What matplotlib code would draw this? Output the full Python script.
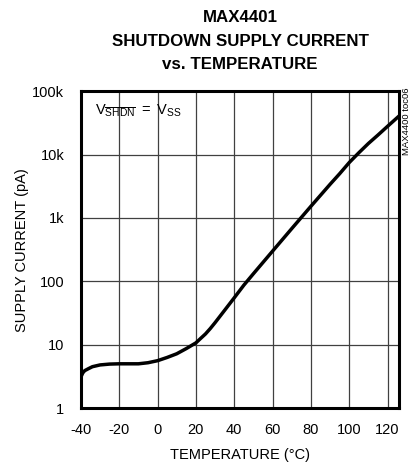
import numpy as np
import matplotlib.pyplot as plt
from matplotlib.ticker import FixedLocator, NullLocator

# data
temp_c = [-40, -39, -38, -36, -34, -30, -25, -20, -15, -10, -5, 0, 5, 10, 15, 20,
          22.5, 25, 27.5, 30, 35, 40, 45, 50, 60, 70, 80, 90, 95, 100, 105, 110,
          115, 120, 126]
supply_pa = [3.1, 3.6, 3.9, 4.2, 4.5, 4.8, 4.95, 5.0, 5.0, 5.0, 5.2, 5.6, 6.3, 7.2, 8.7, 10.7,
             12.6, 14.8, 18.0, 22.3, 35, 55, 87, 132, 300, 680, 1530, 3400, 5000, 7500,
             10700, 15000, 20400, 28000, 40700]

x_ticks = [-40, -20, 0, 20, 40, 60, 80, 100, 120]
y_ticks = [1, 10, 100, 1e3, 1e4, 1e5]
y_tick_labels = ['1', '10', '100', '1k', '10k', '100k']

plt.rcParams['font.family'] = ['Liberation Sans', 'DejaVu Sans']
plt.rcParams['axes.unicode_minus'] = False

fig = plt.figure(figsize=(4.17, 4.68), dpi=100)
ax = fig.add_axes([0.194, 0.128, 0.763, 0.677])

ax.plot(temp_c, supply_pa, color='black', lw=2.5, solid_capstyle='butt',
        solid_joinstyle='round', zorder=3)

ax.set_yscale('log')
ax.set_xlim(-40, 126)
ax.set_ylim(1, 1e5)
ax.xaxis.set_major_locator(FixedLocator(x_ticks))
ax.yaxis.set_major_locator(FixedLocator(y_ticks))
ax.yaxis.set_minor_locator(NullLocator())
ax.set_yticklabels(y_tick_labels)
ax.tick_params(axis='both', length=0, labelsize=10.5)
ax.tick_params(axis='y', pad=12)
ax.tick_params(axis='x', pad=11)
ax.grid(True, color='#404040', lw=0.9)
for s in ax.spines.values():
    s.set_linewidth(2.2)

ax.set_xlabel('TEMPERATURE (°C)', fontsize=10.5, labelpad=8)
ax.set_ylabel('SUPPLY CURRENT (pA)', fontsize=10.5, labelpad=2)

# three title lines
title_lines = ['MAX4401', 'SHUTDOWN SUPPLY CURRENT', 'vs. TEMPERATURE']
for i, line in enumerate(title_lines):
    fig.text(0.5755, 1 - (17.5 + 23.5 * i) / 468, line, ha='center', va='center',
             fontsize=12.2, fontweight='bold')

ax.text(0.045, 0.94, r'$\mathregular{V_{\overline{SHDN}}\;=\;V_{SS}}$', transform=ax.transAxes,
        fontsize=10.5, ha='left', va='center')

fig.text(0.974, 0.812, 'MAX4400 toc06', rotation=90, ha='center', va='top', fontsize=6.8)

fig.savefig('out.png', dpi=100)
